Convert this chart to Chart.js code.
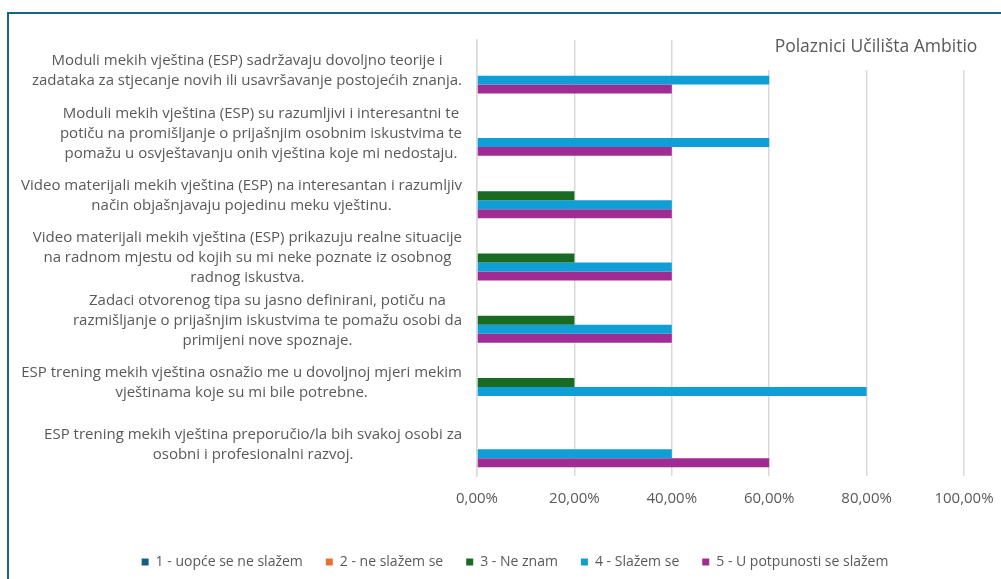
<!DOCTYPE html>
<html>
<head>
<meta charset="utf-8">
<script src="https://cdn.jsdelivr.net/npm/chart.js@4.4.0/dist/chart.umd.min.js"></script>
<style>
  html, body { margin: 0; padding: 0; background: #fff; }
  #wrap { position: relative; width: 1001px; height: 579px; }
</style>
</head>
<body>
<div id="wrap"><canvas id="grafikon" width="1001" height="579"></canvas></div>
<script>
// Polaznici - ocjene ESP treninga (postoci odgovora)

var kategorije = [
  ["Moduli mekih vještina (ESP) sadržavaju dovoljno teorije i",
   "zadataka za stjecanje novih ili usavršavanje postojećih znanja."],
  ["Moduli mekih vještina (ESP) su razumljivi i interesantni te",
   "potiču na promišljanje o prijašnjim osobnim iskustvima te",
   "pomažu u osvještavanju onih vještina koje mi nedostaju."],
  ["Video materijali mekih vještina (ESP) na interesantan i razumljiv",
   "način objašnjavaju pojedinu meku vještinu."],
  ["Video materijali mekih vještina (ESP) prikazuju realne situacije",
   "na radnom mjestu od kojih su mi neke poznate iz osobnog",
   "radnog iskustva."],
  ["Zadaci otvorenog tipa su jasno definirani, potiču na",
   "razmišljanje o prijašnjim iskustvima te pomažu osobi da",
   "primijeni nove spoznaje."],
  ["ESP trening mekih vještina osnažio me u dovoljnoj mjeri mekim",
   "vještinama koje su mi bile potrebne."],
  ["ESP trening mekih vještina preporučio/la bih svakoj osobi za",
   "osobni i profesionalni razvoj."]
];

var nazivi = ["1 - uopće se ne slažem", "2 - ne slažem se", "3 - Ne znam",
              "4 - Slažem se", "5 - U potpunosti se slažem"];

var ocjena1 = [0, 0, 0, 0, 0, 0, 0];
var ocjena2 = [0, 0, 0, 0, 0, 0, 0];
var ocjena3 = [0, 0, 20, 20, 20, 20, 0];
var ocjena4 = [60, 60, 40, 40, 40, 80, 40];
var ocjena5 = [40, 40, 40, 40, 40, 0, 60];

var xTickovi = [0, 20, 40, 60, 80, 100];

var boje = ["#156082", "#E97132", "#196B24", "#0F9ED5", "#A02B93"];
var sivo = "#595959";
var FONT = "'Open Sans', 'Noto Sans', sans-serif";

var serije = [ocjena1, ocjena2, ocjena3, ocjena4, ocjena5];
var datasets = serije.map(function (d, i) {
  return {
    label: nazivi[i],
    data: d,
    backgroundColor: boje[i],
    borderWidth: 0,
    categoryPercentage: 0.72,
    barPercentage: 1.0
  };
});

// okvir, naslov i poravnati nazivi kategorija (blok desno, redovi centrirani)
var crtanje = {
  id: "crtanje",
  beforeDraw: function (chart) {
    var c = chart.ctx;
    c.save();
    c.fillStyle = "#fff";
    c.fillRect(0, 0, chart.width, chart.height);
    c.restore();
  },
  afterDraw: function (chart) {
    var c = chart.ctx;
    var y = chart.scales.y;
    c.save();
    // naslov (preko mreze)
    c.fillStyle = "#fff";
    c.fillRect(700, 38, 300, 32);
    c.fillStyle = sivo;
    c.font = "17.5px " + FONT;
    c.textAlign = "center";
    c.textBaseline = "middle";
    c.fillText("Polaznici Učilišta Ambitio", 876, 47);

    // nazivi kategorija
    c.font = "15px " + FONT;
    var desno = 462, razmak = 20;
    kategorije.forEach(function (redovi, i) {
      var sredina = y.getPixelForTick(i);
      var maxW = 0;
      redovi.forEach(function (r) { maxW = Math.max(maxW, c.measureText(r).width); });
      var cx = desno - maxW / 2;
      redovi.forEach(function (r, j) {
        c.fillText(r, cx, sredina + (j - (redovi.length - 1) / 2) * razmak);
      });
    });

    // okvir
    c.strokeStyle = "#1A6488";
    c.lineWidth = 2;
    c.beginPath();
    c.moveTo(8, 579);
    c.lineTo(8, 13);
    c.lineTo(1001, 13);
    c.stroke();
    c.restore();
  }
};

new Chart(document.getElementById("grafikon"), {
  type: "bar",
  data: { labels: kategorije, datasets: datasets },
  plugins: [crtanje],
  options: {
    indexAxis: "y",
    responsive: false,
    animation: false,
    layout: { padding: { left: 29, right: 0, top: 40, bottom: 0 } },
    scales: {
      x: {
        min: 0, max: 100,
        afterBuildTicks: function (s) { s.ticks = xTickovi.map(function (v) { return { value: v }; }); },
        afterFit: function (s) { s.height = 56; s.paddingLeft = 0; s.paddingRight = 37; },
        grid: { color: "#D9D9D9", lineWidth: 1.5, drawTicks: false },
        border: { display: false },
        ticks: {
          color: sivo, padding: 14,
          font: { family: FONT, size: 15 },
          callback: function (v) { return v.toFixed(2).replace(".", ",") + "%"; }
        }
      },
      y: {
        afterFit: function (s) { s.width = 448; },
        grid: { display: false },
        border: { color: "#D9D9D9", width: 1.5 },
        ticks: { color: "rgba(0,0,0,0)", font: { family: FONT, size: 13 } }
      }
    },
    plugins: {
      legend: {
        position: "bottom",
        labels: {
          color: sivo, boxWidth: 7, boxHeight: 7, padding: 23,
          font: { family: FONT, size: 14 }
        }
      },
      title: { display: false },
      tooltip: { enabled: false }
    }
  }
});
</script>
</body>
</html>
